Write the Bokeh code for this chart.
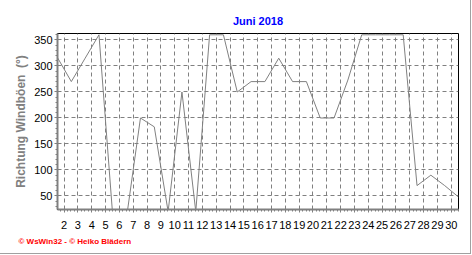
from bokeh.plotting import figure
from bokeh.models import Range1d, FixedTicker, CustomJSTickFormatter, Title
from bokeh.embed import file_html
from bokeh.resources import INLINE

# ---- data ----
days = list(range(1, 31))
direction = [316, 270, 315, 360, 10, 10, 200, 183, 20, 250,
             20, 360, 360, 250, 270, 270, 315, 270, 270, 200,
             200, 273, 360, 360, 360, 360, 70, 90, 70, 48]
y_ticks = [50, 100, 150, 200, 250, 300, 350]
y_minor = list(range(30, 361, 10))
x_labels = list(range(2, 31))

title_text = "Juni 2018"
y_label = "Richtung Windböen\u00a0 (°)"
footer_text = "© WsWin32 - © Heiko Blädern"

# gridline for day label N sits slightly left of the day's data point
shift = 0.524
x_tick_pos = [n - shift for n in x_labels]
x_minor_pos = [n - shift + k * 0.25 for n in range(1, 31) for k in range(4)]
x_minor_pos = [v for v in x_minor_pos if 1 <= v <= 30]

FONT = "Liberation Sans"
GRAY = "#808080"

p = figure(width=471, height=254, output_backend="svg", toolbar_location=None,
           x_range=Range1d(1, 30), y_range=Range1d(24, 362.5),
           min_border_left=57, min_border_right=13,
           min_border_top=33, min_border_bottom=45, title=None)
p.background_fill_color = "white"
p.border_fill_color = "white"
p.outline_line_color = "black"
p.outline_line_width = 1

p.line(days, direction, line_color=GRAY, line_width=1)

# spacer + title above the frame
spacer = Title(text=" ", text_font_size="3px", standoff=0)
p.add_layout(spacer, "above")
ttl = Title(text=title_text, align="center", offset=-20, text_color="#0000FF",
            text_font=FONT, text_font_size="11px", text_font_style="bold", standoff=4)
p.add_layout(ttl, "above")

# footer
foot = Title(text=footer_text, align="left", offset=-39, text_color="#FF0000",
             text_font=FONT, text_font_size="8px", text_font_style="bold", standoff=6)
p.add_layout(foot, "below")

# x axis
xt = FixedTicker(ticks=x_tick_pos, minor_ticks=x_minor_pos)
p.xaxis.ticker = xt
p.xaxis.formatter = CustomJSTickFormatter(code="return String(Math.round(tick + 0.5));")
p.xgrid.ticker = FixedTicker(ticks=x_tick_pos)

# y axis
p.yaxis.ticker = FixedTicker(ticks=y_ticks, minor_ticks=y_minor)
p.ygrid.ticker = FixedTicker(ticks=y_ticks)
p.yaxis.axis_label = y_label
p.yaxis.axis_label_text_font = FONT
p.yaxis.axis_label_text_font_size = "12px"
p.yaxis.axis_label_text_font_style = "bold"
p.yaxis.axis_label_text_color = GRAY
p.yaxis.axis_label_standoff = 3

for ax in (p.xaxis, p.yaxis):
    ax.axis_line_color = GRAY
    ax.axis_line_width = 2
    ax.major_tick_line_color = GRAY
    ax.minor_tick_line_color = GRAY
    ax.major_tick_in = 0
    ax.minor_tick_in = 0
    ax.minor_tick_out = 2
    ax.major_label_text_font = FONT
    ax.major_label_text_font_size = "11px"
    ax.major_label_text_color = "black"

p.xaxis.major_tick_out = 3
p.xaxis.major_label_standoff = 8
p.yaxis.major_tick_out = 3
p.yaxis.major_label_standoff = 2

for g in (p.xgrid, p.ygrid):
    g.grid_line_color = GRAY
    g.grid_line_dash = "4 3"
    g.grid_line_width = 1

p.styles = {"border-right": "1px solid #a0a0a0", "border-bottom": "1px solid #a0a0a0"}

open("out.html", "w").write(file_html(p, INLINE))
